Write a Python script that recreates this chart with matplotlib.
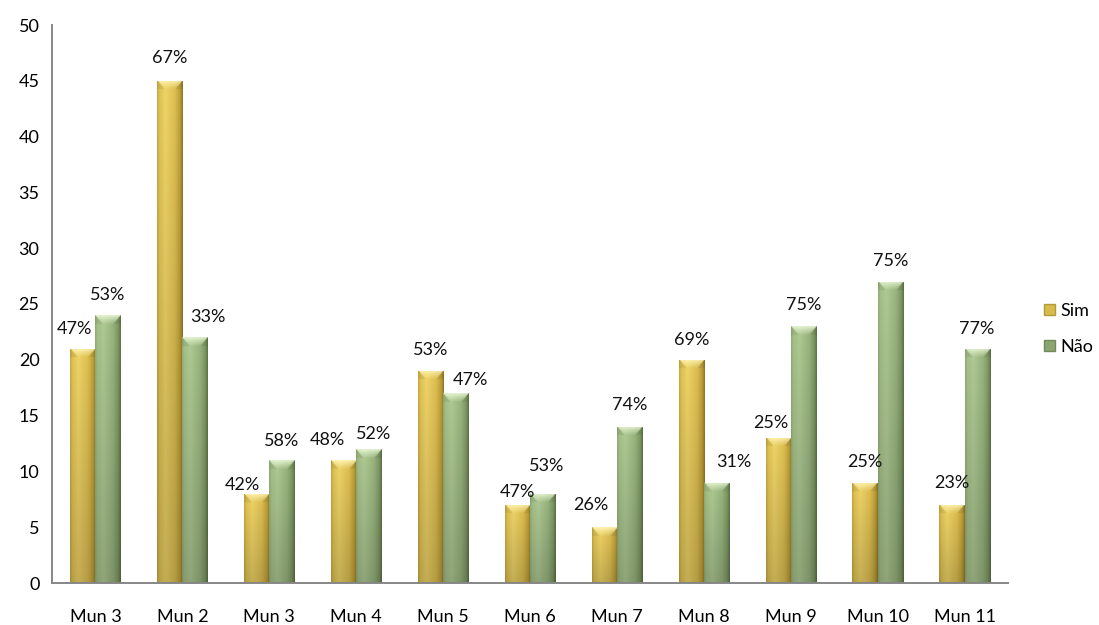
import numpy as np
import matplotlib
matplotlib.use('Agg')
import matplotlib.pyplot as plt
from matplotlib.patches import Patch
from matplotlib.colors import to_rgb

plt.rcParams['font.family'] = ['Lato', 'DejaVu Sans']

# respostas por municipio
municipios = ['Mun 3', 'Mun 2', 'Mun 3', 'Mun 4', 'Mun 5', 'Mun 6',
              'Mun 7', 'Mun 8', 'Mun 9', 'Mun 10', 'Mun 11']
sim = [21, 45, 8, 11, 19, 7, 5, 20, 13, 9, 7]
nao = [24, 22, 11, 12, 17, 8, 14, 9, 23, 27, 21]
sim_pct = ['47%', '67%', '42%', '48%', '53%', '47%', '26%', '69%', '25%', '25%', '23%']
nao_pct = ['53%', '33%', '58%', '52%', '47%', '53%', '74%', '31%', '75%', '75%', '77%']

# nudges for the percentage labels (pixels): horizontal shift, gap above bar
sim_dx = [-8, 0, -14, -16, 0, 0, -13, 0, -7, 0, 0]
sim_gap = [12, 15, 1, 12, 13, 5, 14, 12, 7, 13, 14]
nao_dx = [0, 13, 0, 5, 15, 4, 0, 17, 0, 0, 0]
nao_gap = [12, 12, 11, 7, 5, 20, 14, 13, 13, 13, 12]

# cylinder shading stops (position across bar, colour)
gold = [(0.0, '#c8a842'), (0.08, '#e0c252'), (0.32, '#efd468'),
        (0.7, '#ddbe50'), (0.9, '#bd9f38'), (1.0, '#937824')]
green = [(0.0, '#92ac77'), (0.08, '#a4bf88'), (0.32, '#afca94'),
         (0.7, '#98b47e'), (0.9, '#7e9864'), (1.0, '#5e7447')]
gold_top = '#fff6b8'
green_top = '#eaf8d6'

W, H, DPI = 1099, 625, 100
fig = plt.figure(figsize=(W / DPI, H / DPI), dpi=DPI)
ax = fig.add_axes([52 / W, 1 - 583 / H, (1008 - 52) / W, (583 - 25) / H])

x = np.arange(len(municipios))
bw = 0.29

px_x = (1008 - 52) / len(municipios)
px_y = (583 - 25) / 50.0


def across(stops, n):
    t = np.linspace(0, 1, n)
    pos = [s[0] for s in stops]
    cols = np.array([to_rgb(s[1]) for s in stops])
    return np.stack([np.interp(t, pos, cols[:, k]) for k in range(3)], axis=1)


def shade(bar, stops, top_col):
    x0, w, h = bar.get_x(), bar.get_width(), bar.get_height()
    nx = max(int(round(w * px_x)) * 2, 4)
    ny = max(int(round(h * px_y)) * 2, 4)
    img = np.repeat(across(stops, nx)[None, :, :], ny, axis=0)
    img = img * np.linspace(1.0, 0.82, ny)[:, None, None]
    # bevelled cap
    top = np.array(to_rgb(top_col))
    u = np.linspace(0, 1, nx)
    hb = min(18, ny)
    for r in range(hb):
        f = r / hb
        inside = np.abs(u - 0.5) < 0.5 - 0.3 * f
        wgt = 0.9 * (1 - f) ** 1.1
        img[r, inside] = img[r, inside] * (1 - wgt) + top * wgt
        img[r, ~inside] *= 0.93
    im = ax.imshow(img, extent=(x0, x0 + w, 0, h), origin='upper',
                   aspect='auto', interpolation='bilinear', zorder=2)
    im.set_clip_path(bar)


bars_s = ax.bar(x - bw / 2, sim, bw, facecolor='none', edgecolor='none', zorder=2)
bars_n = ax.bar(x + bw / 2, nao, bw, facecolor='none', edgecolor='none', zorder=2)
for b in bars_s:
    shade(b, gold, gold_top)
for b in bars_n:
    shade(b, green, green_top)
ax.set_xlim(-0.5, len(municipios) - 0.5)
ax.set_ylim(0, 50)

for bars, labels, dxs, gaps in [(bars_s, sim_pct, sim_dx, sim_gap),
                                (bars_n, nao_pct, nao_dx, nao_gap)]:
    for b, lab, dx, gap in zip(bars, labels, dxs, gaps):
        ax.annotate(lab, (b.get_x() + b.get_width() / 2, b.get_height()),
                    xytext=(dx * 72 / DPI, gap * 72 / DPI), textcoords='offset points',
                    ha='center', va='bottom', fontsize=13, color='#111111', zorder=3)

ax.set_xticks(x)
ax.set_xticklabels(municipios)
ax.set_yticks(range(0, 51, 5))
ax.tick_params(axis='x', length=0, pad=19, labelsize=13)
ax.tick_params(axis='y', length=0, pad=9, labelsize=13)
for s in ['top', 'right']:
    ax.spines[s].set_visible(False)
for s in ['left', 'bottom']:
    ax.spines[s].set_color('#878787')
    ax.spines[s].set_linewidth(1.4)

handles = [Patch(facecolor='#d8bb4c', edgecolor='#b59a3a', label='Sim'),
           Patch(facecolor='#8aa56f', edgecolor='#6f8a55', label='Não')]
fig.legend(handles=handles, loc='center left', bbox_to_anchor=(1035 / W, 1 - 329 / H),
           frameon=False, fontsize=13, handlelength=0.6, handleheight=0.6,
           handletextpad=0.3, labelspacing=1.1, borderpad=0)

fig.savefig('out.png', dpi=DPI)
